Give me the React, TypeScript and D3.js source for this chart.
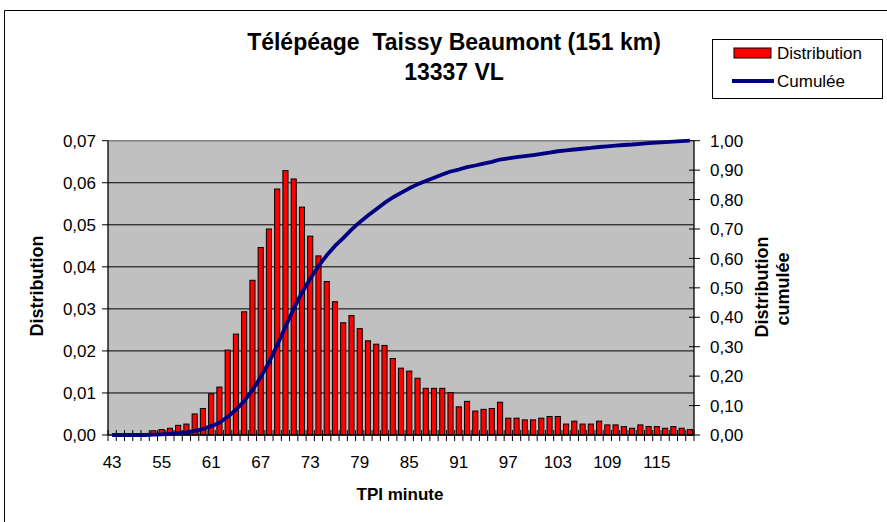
import React from "react";
import * as d3 from "d3";

const minutes: number[] = [43, 50, 51, 52, 53, 54, 55, 56, 57, 58, 59, 60, 61, 62, 63, 64, 65, 66, 67, 68, 69, 70, 71, 72, 73, 74, 75, 76, 77, 78, 79, 80, 81, 82, 83, 84, 85, 86, 87, 88, 89, 90, 91, 92, 93, 94, 95, 96, 97, 98, 99, 100, 101, 102, 103, 104, 105, 106, 107, 108, 109, 110, 111, 112, 113, 114, 115, 116, 117, 118, 119];

const distribution: number[] = [
  0, 0, 0, 0, 0, 0.001, 0.0013, 0.0016, 0.0023, 0.0026,
  0.005, 0.0063, 0.0098, 0.0114, 0.0202, 0.024, 0.0293, 0.0368, 0.0446, 0.049,
  0.0585, 0.0629, 0.0609, 0.0542, 0.0473, 0.0426, 0.0365, 0.0317, 0.0267, 0.0284,
  0.0253, 0.0224, 0.0216, 0.0213, 0.0182, 0.0159, 0.0152, 0.0135, 0.0111, 0.0111,
  0.0111, 0.0101, 0.0067, 0.008, 0.0057, 0.0061, 0.0063, 0.0078, 0.004, 0.004,
  0.0036, 0.0036, 0.004, 0.0044, 0.0044, 0.0026, 0.0033, 0.0026, 0.0026, 0.0033,
  0.0024, 0.0024, 0.002, 0.0016, 0.0024, 0.002, 0.002, 0.0016, 0.002, 0.0016,
  0.0013,
];

const leftTicks: number[] = [0, 0.01, 0.02, 0.03, 0.04, 0.05, 0.06, 0.07];
const rightTicks: number[] = [0, 0.1, 0.2, 0.3, 0.4, 0.5, 0.6, 0.7, 0.8, 0.9, 1.0];
const labelEvery = 6;

const titleLine1 = "Télépéage  Taissy Beaumont (151 km)";
const titleLine2 = "13337 VL";
const xTitle = "TPI minute";
const yTitle = "Distribution";
const y2Title1 = "Distribution";
const y2Title2 = "cumulée";
const legendBar = "Distribution";
const legendLine = "Cumulée";

const W = 887;
const H = 522;
const PL = 108;
const PR = 694;
const PT = 140.7;
const PB = 435;
const FONT = "Arial, 'Liberation Sans', sans-serif";

const fmt = (v: number, d: number) => v.toFixed(d).replace(".", ",");

export default function App() {
  const x = d3.scaleBand<number>().domain(d3.range(minutes.length)).range([PL, PR]).padding(0);
  const y = d3.scaleLinear().domain([0, 0.07]).range([PB, PT]);
  const y2 = d3.scaleLinear().domain([0, 1]).range([PB, PT]);
  const total = d3.sum(distribution);
  const cum = Array.from(d3.cumsum(distribution)).map((v) => v / total);
  const bw = x.bandwidth();
  const barW = bw * 0.62;
  const cx = (i: number) => (x(i) as number) + bw / 2;

  const line = d3
    .line<number>()
    .x((_, i) => cx(i))
    .y((d) => y2(d));

  const boundaries = d3.range(minutes.length + 1).map((i) => PL + i * bw);

  return (
    <svg
      width={W}
      height={H}
      style={{ position: "absolute", left: 0, top: 0, background: "#fff" }}
      fontFamily={FONT}
    >
      <rect x={0} y={0} width={W} height={H} fill="#fff" />
      {/* outer frame */}
      <path d={`M4.5,${H} V10.5 H${W}`} fill="none" stroke="#000" strokeWidth={1} />

      {/* title */}
      <text x={454} y={50} textAnchor="middle" fontSize={23} fontWeight="bold" style={{ whiteSpace: "pre" }}>
        {titleLine1}
      </text>
      <text x={454} y={80} textAnchor="middle" fontSize={23} fontWeight="bold">
        {titleLine2}
      </text>

      {/* plot area */}
      <rect x={PL} y={PT} width={PR - PL} height={PB - PT} fill="#C0C0C0" />
      {leftTicks
        .filter((t) => t > 0 && t < 0.07)
        .map((t) => (
          <line key={t} x1={PL} x2={PR} y1={y(t)} y2={y(t)} stroke="#000" strokeWidth={1} />
        ))}
      <line x1={PL} x2={PR} y1={PT} y2={PT} stroke="#808080" strokeWidth={1.5} />

      {/* bars */}
      {distribution.map((d, i) =>
        d > 0 ? (
          <rect
            key={i}
            x={cx(i) - barW / 2}
            y={y(d)}
            width={barW}
            height={PB - y(d)}
            fill="#FF0000"
            stroke="#000"
            strokeWidth={1}
          />
        ) : null
      )}

      {/* axes */}
      <line x1={PL} x2={PL} y1={PT} y2={PB} stroke="#000" strokeWidth={1.3} />
      <line x1={PR} x2={PR} y1={PT} y2={PB} stroke="#000" strokeWidth={1.3} />
      <line x1={PL} x2={PR} y1={PB} y2={PB} stroke="#000" strokeWidth={1.3} />
      {boundaries.map((bx, i) => (
        <line key={i} x1={bx} x2={bx} y1={PB - 5} y2={PB + 6} stroke="#000" strokeWidth={1} />
      ))}
      {leftTicks.map((t) => (
        <g key={t}>
          <line x1={PL - 6} x2={PL} y1={y(t)} y2={y(t)} stroke="#000" strokeWidth={1} />
          <text x={96} y={y(t)} dy="0.36em" textAnchor="end" fontSize={17}>
            {fmt(t, 2)}
          </text>
        </g>
      ))}
      {rightTicks.map((t) => (
        <g key={t}>
          <line x1={PR - 5} x2={PR + 6} y1={y2(t)} y2={y2(t)} stroke="#000" strokeWidth={1} />
          <text x={710} y={y2(t)} dy="0.36em" textAnchor="start" fontSize={17}>
            {fmt(t, 2)}
          </text>
        </g>
      ))}
      {minutes.map((m, i) =>
        i % labelEvery === 0 ? (
          <text key={i} x={cx(i)} y={468} textAnchor="middle" fontSize={17}>
            {m}
          </text>
        ) : null
      )}

      {/* cumulative line */}
      <path d={line(cum) || ""} fill="none" stroke="#000080" strokeWidth={3.8} strokeLinejoin="round" />

      {/* axis titles */}
      <text x={400} y={500} textAnchor="middle" fontSize={17} fontWeight="bold">
        {xTitle}
      </text>
      <text transform="translate(43,286) rotate(-90)" textAnchor="middle" fontSize={18} fontWeight="bold">
        {yTitle}
      </text>
      <text transform="translate(768,287) rotate(-90)" textAnchor="middle" fontSize={18} fontWeight="bold">
        {y2Title1}
      </text>
      <text transform="translate(789,289) rotate(-90)" textAnchor="middle" fontSize={18} fontWeight="bold">
        {y2Title2}
      </text>

      {/* legend */}
      <rect x={712.5} y={39.5} width={170} height={59} fill="#fff" stroke="#000" strokeWidth={1} />
      <rect x={734} y={48} width={37} height={10} fill="#FF0000" stroke="#000" strokeWidth={1} />
      <text x={777} y={58.5} fontSize={17}>
        {legendBar}
      </text>
      <line x1={732} x2={774} y1={81} y2={81} stroke="#000080" strokeWidth={3.8} />
      <text x={777} y={87} fontSize={17}>
        {legendLine}
      </text>
    </svg>
  );
}
